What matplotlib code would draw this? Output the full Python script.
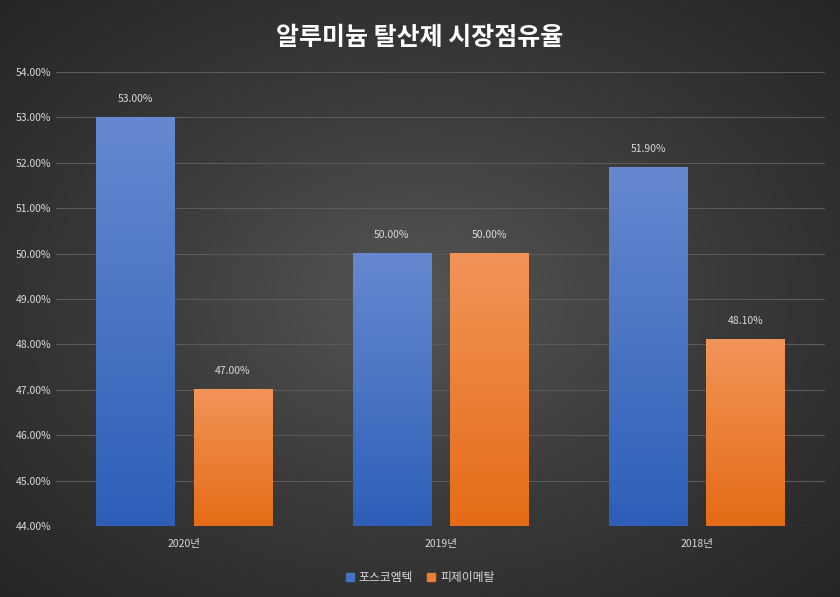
import matplotlib.pyplot as plt
import matplotlib.colors as mcolors
import numpy as np

plt.rcParams['font.family'] = ['Noto Sans CJK KR', 'DejaVu Sans']

years = ['2020년', '2019년', '2018년']
posco = [53.0, 50.0, 51.9]
pj = [47.0, 50.0, 48.1]
series_names = ['포스코엠텍', '피제이메탈']

fig = plt.figure(figsize=(8.4, 5.97), dpi=100)

# radial background
bg = fig.add_axes([0, 0, 1, 1], zorder=-10)
yy, xx = np.mgrid[-1:1:300j, -1:1:420j]
r = np.sqrt(xx**2 + yy**2)
bg_cmap = mcolors.LinearSegmentedColormap.from_list("", ["#555555", "#3a3a3a", "#252525"])
bg.imshow(r, cmap=bg_cmap, aspect='auto', extent=[0, 1, 0, 1])
bg.axis('off')

ax = fig.add_axes([56/840, 1 - 526/597, 769/840, 454/597])
ax.patch.set_alpha(0)

x = np.arange(len(years))
w = 0.305
off = 0.19
blue = mcolors.LinearSegmentedColormap.from_list("", ["#2d5fb8", "#6688d0"])
orange = mcolors.LinearSegmentedColormap.from_list("", ["#e46c16", "#f29458"])
grad = np.linspace(0, 1, 100).reshape(-1, 1)

def gradbars(xs, vals, cmap):
    bars = ax.bar(xs, vals, w, bottom=0, color='none')
    for b, xi, v in zip(bars, xs, vals):
        ax.imshow(grad, cmap=cmap, origin='lower', aspect='auto',
                  extent=[xi - w/2, xi + w/2, 44, v], zorder=2)
        ax.text(xi, v + 0.3, f'{v:.2f}%', ha='center', va='bottom',
                color='#d9d9d9', fontsize=7.5)

gradbars(x - off, posco, blue)
gradbars(x + off, pj, orange)

ax.set_xlim(-0.5, 2.5)
ax.set_ylim(44, 54)
ax.set_yticks(np.arange(44, 54.1, 1))
ax.set_yticklabels([f'{v:.2f}%' for v in np.arange(44, 54.1, 1)])
ax.set_xticks(x)
ax.set_xticklabels(years)
ax.tick_params(colors='#d9d9d9', labelsize=7.5, length=0)
ax.tick_params(axis='x', pad=9)
ax.grid(axis='y', color='#5a5a5a', linewidth=0.8)
ax.set_axisbelow(True)
for s in ax.spines.values():
    s.set_visible(False)
ax.axhline(44, color='#7a7a7a', linewidth=0.8)

fig.text(0.5, 1 - 38/597, '알루미늄 탈산제 시장점유율', ha='center', va='center',
         color='white', fontsize=18, fontweight='bold')

h1 = plt.Rectangle((0, 0), 1, 1, color='#4472c4')
h2 = plt.Rectangle((0, 0), 1, 1, color='#ed7d31')
fig.legend([h1, h2], series_names, loc='center', bbox_to_anchor=(0.5, 0.033),
           ncol=2, frameon=False, labelcolor='#d9d9d9', fontsize=8.5,
           handlelength=0.7, handleheight=0.7, columnspacing=1.2, handletextpad=0.4)

fig.savefig('out.png', dpi=100)
